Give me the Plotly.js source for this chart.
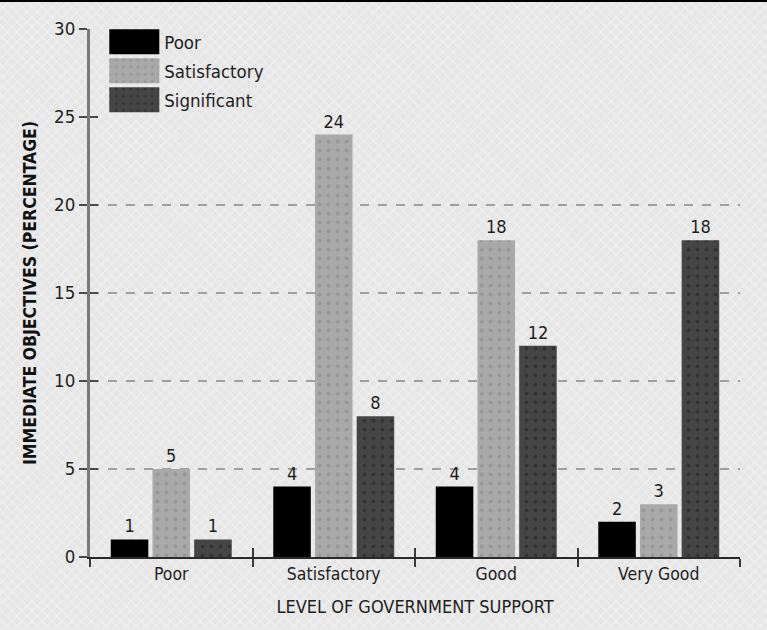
<!DOCTYPE html>
<html>
<head>
<meta charset="utf-8">
<script src="https://cdn.plot.ly/plotly-3.0.1.min.js"></script>
<style>
  html, body { margin: 0; padding: 0; background: #e7e7e7; }
  #chart {
    width: 767px; height: 628px;
    border-top: 2px solid #000;
    background-color: #e6e6e6;
    background-image:
      repeating-linear-gradient(45deg, rgba(255,255,255,0.22) 0 2px, rgba(0,0,0,0) 2px 7px),
      repeating-linear-gradient(-45deg, rgba(255,255,255,0.22) 0 2px, rgba(0,0,0,0) 2px 7px);
  }
</style>
</head>
<body>
<div id="chart"></div>
<script>
// Level of government support (x categories)
const supportLevels = ['Poor', 'Satisfactory', 'Good', 'Very Good'];

// Share of immediate objectives achieved, by rating (percent)
const poorValues = [1, 4, 4, 2];
const satisfactoryValues = [5, 24, 18, 3];
const significantValues = [1, 8, 12, 18];

const seriesNames = ['Poor', 'Satisfactory', 'Significant'];

const yTicks = [0, 5, 10, 15, 20, 25, 30];
const gridTicks = [5, 10, 15, 20];
const boundaryTicks = [-0.5, 0.5, 1.5, 2.5, 3.5];

const FONT = '"DejaVu Sans Condensed", "Liberation Sans Narrow", "Arial Narrow", sans-serif';

function barTrace(name, values, color, dotColor, group) {
  const t = {
    type: 'bar',
    name: name,
    legendgroup: group,
    x: supportLevels,
    y: values,
    text: values.map(String),
    textposition: 'outside',
    cliponaxis: false,
    textfont: { family: FONT, size: 18, color: '#1e1e1e' },
    marker: { color: color, line: { width: 0 } },
    hoverinfo: 'skip'
  };
  if (dotColor) {
    t.marker.pattern = { shape: '.', fgcolor: dotColor, bgcolor: color, size: 9, solidity: 0.14, fillmode: 'replace' };
  }
  return t;
}

const data = [
  barTrace(seriesNames[0], poorValues, '#000000', null, 'g1'),
  barTrace(seriesNames[1], satisfactoryValues, '#a9a9a9', '#979797', 'g2'),
  barTrace(seriesNames[2], significantValues, '#454545', '#333333', 'g3')
];

const layout = {
  width: 767,
  height: 628,
  margin: { l: 90, r: 27, t: 27, b: 73 },
  paper_bgcolor: 'rgba(0,0,0,0)',
  plot_bgcolor: 'rgba(0,0,0,0)',
  font: { family: FONT, size: 18, color: '#1e1e1e' },
  barmode: 'group',
  bargap: 0.23,
  bargroupgap: 0.1,
  showlegend: true,
  legend: {
    x: 0.022, y: 1.011, xanchor: 'left', yanchor: 'top',
    bgcolor: 'rgba(0,0,0,0)',
    font: { family: FONT, size: 18.5, color: '#1e1e1e' },
    itemwidth: 50,
    tracegroupgap: 2,
    traceorder: 'grouped'
  },
  xaxis: {
    type: 'category',
    range: [-0.5, 3.5],
    showline: true, linecolor: '#2a2a2a', linewidth: 2,
    ticks: 'outside', tickson: 'boundaries', ticklen: 8, tickwidth: 2, tickcolor: '#3a3a3a',
    tickfont: { family: FONT, size: 17.5, color: '#1e1e1e' },
    showgrid: false, zeroline: false,
    title: { text: 'LEVEL OF GOVERNMENT SUPPORT', font: { family: FONT, size: 18, color: '#1e1e1e' }, standoff: 17 },
    fixedrange: true
  },
  xaxis2: {
    overlaying: 'x', range: [-0.5, 3.5],
    tickmode: 'array', tickvals: boundaryTicks,
    ticks: 'inside', ticklen: 9, tickwidth: 2, tickcolor: '#3a3a3a',
    showticklabels: false, showgrid: false, zeroline: false, showline: false
  },
  yaxis: {
    range: [0, 30],
    tickmode: 'array', tickvals: yTicks,
    showline: true, linecolor: '#7a7a7a', linewidth: 3,
    ticks: 'outside', ticklen: 8, tickwidth: 2, tickcolor: '#4a4a4a',
    tickfont: { family: FONT, size: 18.5, color: '#1e1e1e' },
    showgrid: false, zeroline: false,
    title: { text: '<b>IMMEDIATE OBJECTIVES (PERCENTAGE)</b>', font: { family: FONT, size: 17.5, color: '#111' }, standoff: 13 },
    fixedrange: true
  },
  yaxis2: {
    overlaying: 'y', range: [0, 30],
    tickmode: 'array', tickvals: yTicks,
    ticks: 'inside', ticklen: 8, tickwidth: 2, tickcolor: '#4a4a4a',
    showticklabels: false, showgrid: false, zeroline: false, showline: false
  },
  yaxis3: {
    overlaying: 'y', range: [0, 30],
    tickmode: 'array', tickvals: gridTicks,
    ticks: '', showticklabels: false,
    showgrid: true, gridcolor: '#a0a0a0', gridwidth: 2, griddash: 'dash',
    zeroline: false, showline: false
  }
};

// Empty helper traces so the overlay axes are drawn
data.push({ type: 'scatter', x: [], y: [], xaxis: 'x2', yaxis: 'y2', showlegend: false, hoverinfo: 'skip' });
data.push({ type: 'scatter', x: [], y: [], xaxis: 'x2', yaxis: 'y3', showlegend: false, hoverinfo: 'skip' });

Plotly.newPlot('chart', data, layout, { staticPlot: true, displayModeBar: false }).then(function (gd) {
  // Larger rectangular legend swatches
  gd.querySelectorAll('.legend .legendpoints path').forEach(function (p) {
    p.setAttribute('d', 'M-25,-12.5H25V12.5H-25Z');
  });
});
</script>
</body>
</html>
